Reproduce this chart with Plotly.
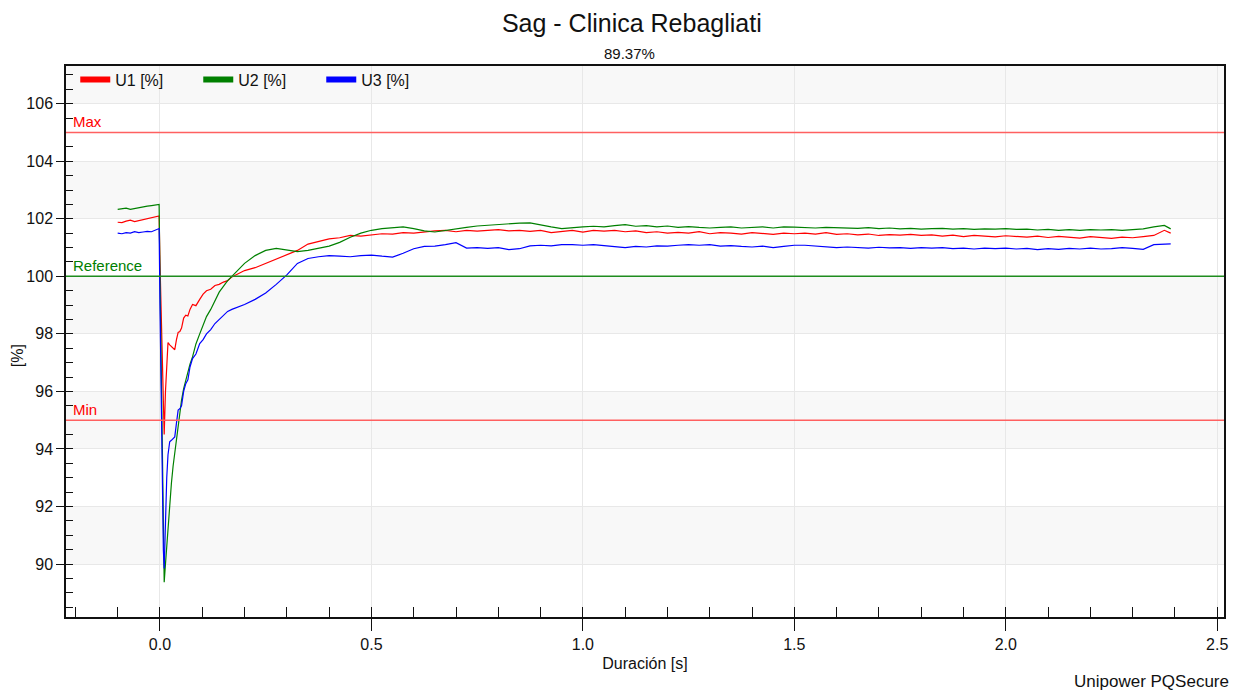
import plotly.graph_objects as go

# ---------------- data ----------------
t_pre = [-0.100, -0.090, -0.080, -0.070, -0.060, -0.050, -0.040, -0.030, -0.020, -0.010, -0.002]
t_dip = [0.000, 0.004, 0.008, 0.010, 0.013, 0.016, 0.019, 0.023, 0.027, 0.031,
         0.035, 0.039, 0.043, 0.047, 0.051, 0.056, 0.061, 0.066, 0.071, 0.077,
         0.085, 0.094, 0.102, 0.110, 0.120, 0.130, 0.140, 0.150, 0.160, 0.170,
         0.180, 0.190, 0.200]
t_rest = [round(0.225 + 0.025 * i, 3) for i in range(87)] + [2.39]
time_s = t_pre + t_dip + t_rest

u1_pre = [101.88, 101.87, 101.92, 101.95, 101.90, 101.93, 101.97, 102.00, 102.03, 102.06, 102.10]
u1_dip = [100.5, 97.8, 95.2, 94.5, 96.0, 97.0, 97.7, 97.62, 97.55, 97.5,
          97.45, 97.8, 98.05, 98.08, 98.2, 98.55, 98.65, 98.62, 98.85, 99.02,
          98.98, 99.2, 99.38, 99.5, 99.55, 99.68, 99.72, 99.8, 99.85, 99.98,
          100.05, 100.12, 100.2]
u1_rest = [100.30, 100.45, 100.60, 100.73, 100.90, 101.12, 101.22, 101.30,
           101.34, 101.42, 101.40, 101.45, 101.48, 101.47, 101.52, 101.50,
           101.55, 101.58, 101.60, 101.55, 101.60, 101.57, 101.60, 101.62,
           101.58, 101.60, 101.56, 101.60, 101.52, 101.55, 101.60, 101.54,
           101.60, 101.57, 101.60, 101.55, 101.58, 101.52, 101.55, 101.50,
           101.53, 101.50, 101.55, 101.48, 101.52, 101.50, 101.47, 101.52,
           101.50, 101.46, 101.50, 101.48, 101.50, 101.47, 101.52, 101.46,
           101.48, 101.44, 101.47, 101.42, 101.45, 101.43, 101.46, 101.42,
           101.44, 101.40, 101.43, 101.38, 101.42, 101.40, 101.37, 101.41,
           101.38, 101.36, 101.40, 101.35, 101.39, 101.36, 101.33, 101.38,
           101.35, 101.32, 101.36, 101.34, 101.38, 101.42, 101.60, 101.50]

u2_pre = [102.33, 102.35, 102.37, 102.33, 102.36, 102.40, 102.42, 102.44, 102.46, 102.48, 102.50]
u2_dip = [100.0, 96.0, 91.0, 89.37, 90.0, 90.6, 91.5, 92.2, 92.8, 93.4,
          93.9, 94.3, 94.9, 95.4, 95.7, 96.1, 96.4, 96.7, 96.95, 97.2,
          97.65, 98.0, 98.3, 98.6, 98.85, 99.15, 99.45, 99.65, 99.85, 100.0,
          100.15, 100.3, 100.45]
u2_rest = [100.72, 100.90, 100.97, 100.92, 100.86, 100.90, 100.98, 101.05,
           101.18, 101.36, 101.50, 101.60, 101.66, 101.70, 101.72, 101.66,
           101.58, 101.54, 101.60, 101.64, 101.70, 101.75, 101.78, 101.80,
           101.82, 101.85, 101.86, 101.78, 101.72, 101.66, 101.70, 101.72,
           101.74, 101.72, 101.76, 101.80, 101.74, 101.76, 101.72, 101.75,
           101.70, 101.73, 101.70, 101.68, 101.70, 101.72, 101.68, 101.70,
           101.72, 101.68, 101.72, 101.71, 101.70, 101.68, 101.70, 101.69,
           101.70, 101.67, 101.69, 101.66, 101.68, 101.65, 101.67, 101.64,
           101.66, 101.67, 101.64, 101.66, 101.63, 101.65, 101.64, 101.66,
           101.63, 101.64, 101.61, 101.63, 101.60, 101.62, 101.60, 101.62,
           101.61, 101.62, 101.60, 101.63, 101.65, 101.72, 101.77, 101.65]

u3_pre = [101.50, 101.48, 101.52, 101.50, 101.55, 101.52, 101.54, 101.56, 101.55, 101.60, 101.66]
u3_dip = [99.0, 94.0, 90.5, 89.85, 91.76, 93.0, 93.8, 94.25, 94.3, 94.35,
          94.42, 94.9, 95.35, 95.4, 95.5, 96.0, 96.27, 96.4, 96.85, 97.14,
          97.3, 97.66, 97.8, 98.0, 98.15, 98.36, 98.5, 98.65, 98.78, 98.85,
          98.9, 98.97, 99.02]
u3_rest = [99.20, 99.42, 99.72, 100.05, 100.45, 100.62, 100.68, 100.72,
           100.70, 100.68, 100.72, 100.74, 100.70, 100.67, 100.80, 100.96,
           101.04, 101.05, 101.10, 101.17, 100.98, 101.00, 100.97, 101.00,
           100.93, 100.96, 101.06, 101.08, 101.06, 101.10, 101.10, 101.08,
           101.10, 101.06, 101.02, 101.00, 101.04, 101.02, 101.06, 101.05,
           101.08, 101.10, 101.08, 101.10, 101.05, 101.07, 101.04, 101.02,
           101.05, 101.00, 101.04, 101.08, 101.08, 101.06, 101.04, 101.00,
           101.02, 101.00, 100.98, 101.01, 100.99, 101.00, 100.97, 101.00,
           100.98, 101.00, 100.96, 100.98, 100.95, 100.98, 100.96, 100.98,
           100.95, 100.97, 100.93, 100.96, 100.94, 100.97, 100.95, 100.98,
           100.95, 100.96, 101.00, 100.97, 100.94, 101.10, 101.12, 101.13]

u1 = u1_pre + u1_dip + u1_rest
u2 = u2_pre + u2_dip + u2_rest
u3 = u3_pre + u3_dip + u3_rest

series_names = ["U1 [%]", "U2 [%]", "U3 [%]"]
series_colors = ["#ff0000", "#008000", "#0000ff"]

limit_names = ["Max", "Reference", "Min"]
limit_values = [105, 100, 95]
limit_line_colors = ["#ff6060", "#1e8c1e", "#ff6060"]
limit_text_colors = ["#ff0000", "#008000", "#ff0000"]

band_edges = [(90, 92), (94, 96), (98, 100), (102, 104), (106, 108)]

title_text = "Sag - Clinica Rebagliati"
subtitle_text = "89.37%"
x_title = "Duración [s]"
y_title = "[%]"
footer_text = "Unipower PQSecure"

x_range = [-0.2222, 2.516]
y_range = [88.16, 107.31]

# ---------------- figure ----------------
FONT = "Liberation Sans, Arial, sans-serif"
fig = go.Figure()

for name, col, ys in zip(series_names, series_colors, [u1, u2, u3]):
    fig.add_trace(go.Scatter(x=time_s, y=ys, mode="lines", name=name,
                             line=dict(color=col, width=1.2), showlegend=False))
# legend entries (thick swatches)
for name, col in zip(series_names, series_colors):
    fig.add_trace(go.Scatter(x=[None], y=[None], mode="lines", name=name,
                             line=dict(color=col, width=6), showlegend=True))

shapes = []
for lo, hi in band_edges:
    shapes.append(dict(type="rect", xref="paper", yref="y", x0=0, x1=1, y0=lo, y1=hi,
                       fillcolor="#f8f8f8", line=dict(width=0), layer="below"))
for val, col in zip(limit_values, limit_line_colors):
    shapes.append(dict(type="line", xref="paper", yref="y", x0=0, x1=1, y0=val, y1=val,
                       line=dict(color=col, width=1.5), layer="above"))

annotations = []
for name, val, col in zip(limit_names, limit_values, limit_text_colors):
    annotations.append(dict(text=name, xref="paper", yref="y", x=0.004, y=val,
                            xanchor="left", yanchor="bottom", showarrow=False,
                            font=dict(family=FONT, size=15, color=col)))
annotations.append(dict(text=subtitle_text, xref="paper", yref="paper", x=0.4862, y=1.0218,
                        xanchor="center", yanchor="middle", showarrow=False,
                        font=dict(family=FONT, size=15, color="#111")))
annotations.append(dict(text=footer_text, xref="paper", yref="paper", x=1.006, y=-0.1174,
                        xanchor="right", yanchor="middle", showarrow=False,
                        font=dict(family=FONT, size=17, color="#111")))
annotations.append(dict(text=y_title, xref="paper", yref="paper", x=-0.0417, y=0.4746,
                        xanchor="center", yanchor="middle", textangle=-90, showarrow=False,
                        font=dict(family=FONT, size=16, color="#111")))

fig.update_layout(
    width=1234, height=690,
    margin=dict(l=66, r=6, t=66, b=73),
    paper_bgcolor="white", plot_bgcolor="white",
    font=dict(family=FONT, size=16, color="#111"),
    title=dict(text=title_text, x=0.512, xanchor="center", y=0.9667, yanchor="middle",
               xref="container", yref="container",
               font=dict(family=FONT, size=25, color="#111")),
    legend=dict(orientation="h", x=0.008, y=1.006, xanchor="left", yanchor="top",
                bgcolor="rgba(0,0,0,0)", font=dict(family=FONT, size=16, color="#111"),
                entrywidth=78, entrywidthmode="pixels", itemwidth=30),
    shapes=shapes, annotations=annotations,
)

fig.update_xaxes(
    range=x_range, dtick=0.5, tick0=0, tickformat=".1f",
    showline=True, mirror=True, linecolor="#111", linewidth=1.5,
    ticks="outside", ticklen=12, tickwidth=1.2, tickcolor="#111",
    showgrid=True, gridcolor="#e8e8e8", gridwidth=1, zeroline=False,
    minor=dict(ticks="inside", ticklen=10, tickwidth=1.2, tickcolor="#111",
               dtick=0.1, tick0=0, showgrid=False),
    title=dict(text=x_title, standoff=6, font=dict(family=FONT, size=16, color="#111")),
    tickfont=dict(family=FONT, size=16, color="#111"),
)
fig.update_yaxes(
    range=y_range, dtick=2, tick0=0, tickformat="d",
    showline=True, mirror=True, linecolor="#111", linewidth=1.5,
    ticks="outside", ticklen=8, tickwidth=1.2, tickcolor="#111",
    showgrid=True, gridcolor="#e8e8e8", gridwidth=1, zeroline=False,
    minor=dict(ticks="inside", ticklen=7, tickwidth=1.2, tickcolor="#111",
               dtick=0.5, tick0=0, showgrid=False),
    tickfont=dict(family=FONT, size=16, color="#111"),
)

fig.write_html("out.html")
